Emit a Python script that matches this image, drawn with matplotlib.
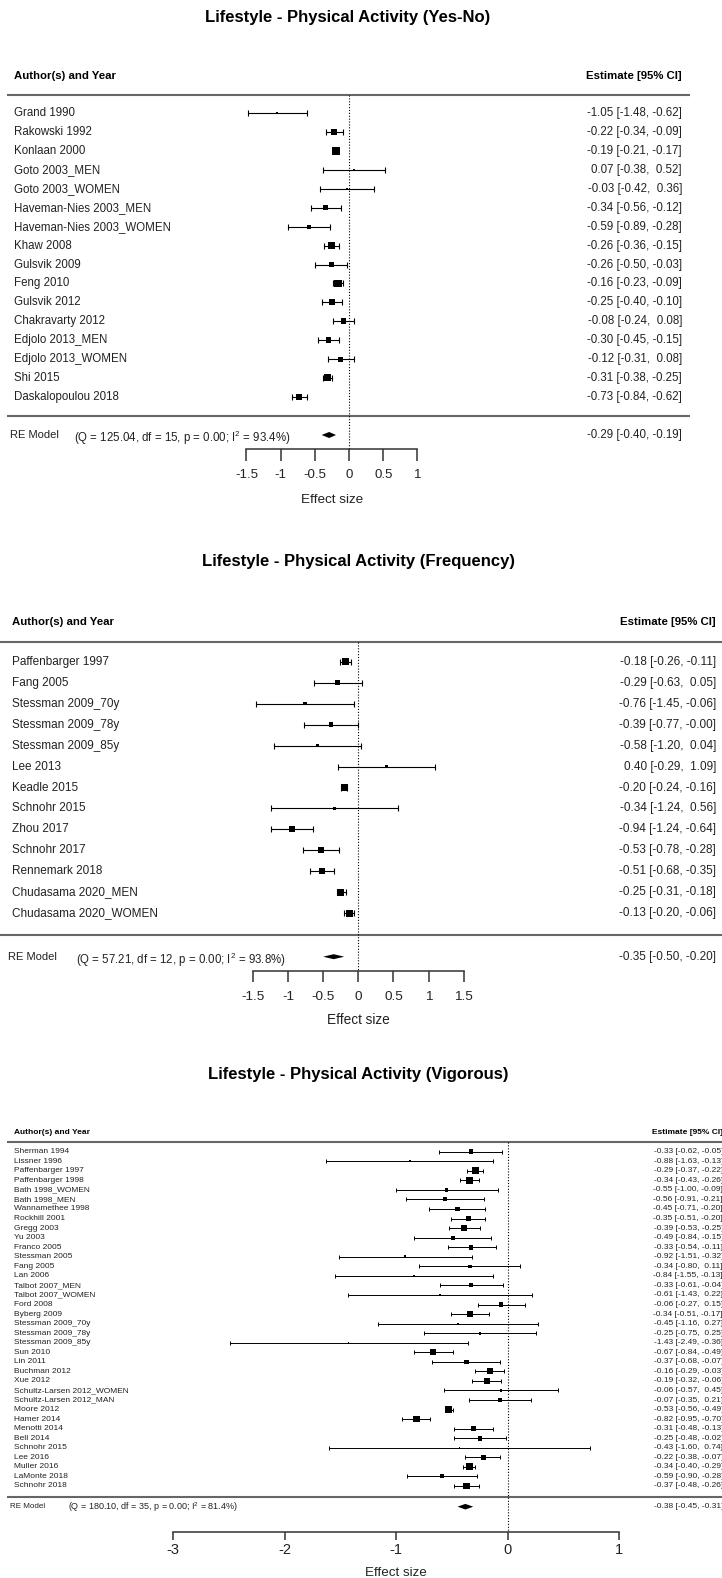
##----------Importing necessary packages-------------
import numpy as np
import matplotlib.pyplot as plt
from matplotlib import transforms
from matplotlib.patches import Polygon

plt.rcParams['font.family'] = ['Liberation Sans', 'DejaVu Sans']
plt.rcParams['mathtext.fontset'] = 'custom'
plt.rcParams['mathtext.rm'] = 'Liberation Sans'
plt.rcParams['mathtext.it'] = 'Liberation Sans'
##--------------------------------------------------

##-----------Data: panel 1 (Yes-No)-----------------
title1 = 'Lifestyle - Physical Activity (Yes-No)'
names1 = ['Grand 1990', 'Rakowski 1992', 'Konlaan 2000', 'Goto 2003_MEN', 'Goto 2003_WOMEN',
          'Haveman-Nies 2003_MEN', 'Haveman-Nies 2003_WOMEN', 'Khaw 2008', 'Gulsvik 2009',
          'Feng 2010', 'Gulsvik 2012', 'Chakravarty 2012', 'Edjolo 2013_MEN',
          'Edjolo 2013_WOMEN', 'Shi 2015', 'Daskalopoulou 2018']
est1 = [-1.05, -0.22, -0.19, 0.07, -0.03, -0.34, -0.59, -0.26, -0.26, -0.16, -0.25, -0.08, -0.30, -0.12, -0.31, -0.73]
lo1 = [-1.48, -0.34, -0.21, -0.38, -0.42, -0.56, -0.89, -0.36, -0.50, -0.23, -0.40, -0.24, -0.45, -0.31, -0.38, -0.84]
hi1 = [-0.62, -0.09, -0.17, 0.52, 0.36, -0.12, -0.28, -0.15, -0.03, -0.09, -0.10, 0.08, -0.15, 0.08, -0.25, -0.62]
wt1 = [2.0, 6.0, 7.3, 2.0, 2.7, 5.3, 4.0, 6.7, 5.0, 7.3, 5.7, 5.7, 5.7, 5.0, 7.0, 6.0]
re1 = [-0.29, -0.40, -0.19]
stats1 = [125.04, 15, 0.00, 93.4]
ticks1 = [-1.5, -1, -0.5, 0, 0.5, 1]

##-----------Data: panel 2 (Frequency)--------------
title2 = 'Lifestyle - Physical Activity (Frequency)'
names2 = ['Paffenbarger 1997', 'Fang 2005', 'Stessman 2009_70y', 'Stessman 2009_78y',
          'Stessman 2009_85y', 'Lee 2013', 'Keadle 2015', 'Schnohr 2015', 'Zhou 2017',
          'Schnohr 2017', 'Rennemark 2018', 'Chudasama 2020_MEN', 'Chudasama 2020_WOMEN']
est2 = [-0.18, -0.29, -0.76, -0.39, -0.58, 0.40, -0.20, -0.34, -0.94, -0.53, -0.51, -0.25, -0.13]
lo2 = [-0.26, -0.63, -1.45, -0.77, -1.20, -0.29, -0.24, -1.24, -1.24, -0.78, -0.68, -0.31, -0.20]
hi2 = [-0.11, 0.05, -0.06, -0.0, 0.04, 1.09, -0.16, 0.56, -0.64, -0.28, -0.35, -0.18, -0.06]
wt2 = [7.3, 5.0, 3.3, 4.3, 3.3, 3.3, 7.3, 2.3, 6.0, 6.0, 6.0, 7.3, 7.3]
re2 = [-0.35, -0.50, -0.20]
stats2 = [57.21, 12, 0.00, 93.8]
ticks2 = [-1.5, -1, -0.5, 0, 0.5, 1, 1.5]

##-----------Data: panel 3 (Vigorous)---------------
title3 = 'Lifestyle - Physical Activity (Vigorous)'
names3 = ['Sherman 1994', 'Lissner 1996', 'Paffenbarger 1997', 'Paffenbarger 1998',
          'Bath 1998_WOMEN', 'Bath 1998_MEN', 'Wannamethee 1998', 'Rockhill 2001', 'Gregg 2003',
          'Yu 2003', 'Franco 2005', 'Stessman 2005', 'Fang 2005', 'Lan 2006', 'Talbot 2007_MEN',
          'Talbot 2007_WOMEN', 'Ford 2008', 'Byberg 2009', 'Stessman 2009_70y',
          'Stessman 2009_78y', 'Stessman 2009_85y', 'Sun 2010', 'Lin 2011', 'Buchman 2012',
          'Xue 2012', 'Schultz-Larsen 2012_WOMEN', 'Schultz-Larsen 2012_MAN', 'Moore 2012',
          'Hamer 2014', 'Menotti 2014', 'Bell 2014', 'Schnohr 2015', 'Lee 2016', 'Muller 2016',
          'LaMonte 2018', 'Schnohr 2018']
est3 = [-0.33, -0.88, -0.29, -0.34, -0.55, -0.56, -0.45, -0.35, -0.39, -0.49, -0.33, -0.92,
        -0.34, -0.84, -0.33, -0.61, -0.06, -0.34, -0.45, -0.25, -1.43, -0.67, -0.37, -0.16,
        -0.19, -0.06, -0.07, -0.53, -0.82, -0.31, -0.25, -0.43, -0.22, -0.34, -0.59, -0.37]
lo3 = [-0.62, -1.63, -0.37, -0.43, -1.00, -0.91, -0.71, -0.51, -0.53, -0.84, -0.54, -1.51,
       -0.80, -1.55, -0.61, -1.43, -0.27, -0.51, -1.16, -0.75, -2.49, -0.84, -0.68, -0.29,
       -0.32, -0.57, -0.35, -0.56, -0.95, -0.48, -0.48, -1.60, -0.38, -0.40, -0.90, -0.48]
hi3 = [-0.05, -0.13, -0.22, -0.26, -0.09, -0.21, -0.20, -0.20, -0.25, -0.15, -0.11, -0.32,
       0.11, -0.13, -0.04, 0.22, 0.15, -0.17, 0.27, 0.25, -0.36, -0.49, -0.07, -0.03,
       -0.06, 0.45, 0.21, -0.49, -0.70, -0.13, -0.02, 0.74, -0.07, -0.29, -0.28, -0.26]
wt3 = [3.5, 1.5, 5.0, 5.0, 2.5, 3.0, 3.5, 4.0, 4.5, 3.0, 3.5, 2.0, 2.5, 1.5, 3.0, 1.5, 3.5,
       4.0, 1.5, 2.0, 1.0, 4.5, 3.0, 4.5, 4.5, 2.0, 3.0, 5.5, 5.0, 4.0, 3.5, 1.0, 4.0, 5.0,
       3.0, 4.5]
re3 = [-0.38, -0.45, -0.31]
stats3 = [180.10, 35, 0.00, 81.4]
ticks3 = [-3, -2, -1, 0, 1]
##--------------------------------------------------

W, H = 722, 1578
fig = plt.figure(figsize=(W / 100, H / 100), dpi=100)

##layout of each panel in pixels of the output picture (box = px per weight unit)
lay1 = dict(top=0, bot=515, x0=349, sc=68.4, row0=113.3, drow=18.9, ty=17, tx=348,
            hy=76, hl1=95, hl2=416, rey=435, axy=449.3, tlen=12, tly=475, xly=500,
            nx=14, ex=682, l0=7, l1=690, qx=74, qdy=3, dh=3, box=1.0,
            fs_t=12, fs_h=8.2, fs_n=8.3, fs_re=8.0, fs_q=8.3, fs_tk=9.5, fs_xl=9.7, cap=2.0, lw=0.8)
lay2 = dict(top=515, bot=1045, x0=358.3, sc=70.3, row0=661.7, drow=20.97, ty=561.7, tx=358,
            hy=622, hl1=641.7, hl2=935, rey=956.7, axy=970.7, tlen=11, tly=997.3, xly=1020,
            nx=12, ex=716, l0=0, l1=722, qx=76, qdy=3, dh=2.5, box=1.0,
            fs_t=12, fs_h=8.2, fs_n=8.5, fs_re=8.0, fs_q=8.3, fs_tk=9.7, fs_xl=9.8, cap=2.0, lw=0.8)
lay3 = dict(top=1045, bot=1578, x0=507.8, sc=111.6, row0=1151.7, drow=9.55, ty=1075, tx=358,
            hy=1132.7, hl1=1142, hl2=1496.7, rey=1506.7, axy=1531.7, tlen=8, tly=1550, xly=1573,
            nx=14, ex=723, l0=6.7, l1=722, qx=68, qdy=0.5, dh=2.8, box=1.35,
            fs_t=12, fs_h=6.0, fs_n=6.0, fs_re=5.8, fs_q=6.5, fs_tk=10.5, fs_xl=9.6, cap=1.4, lw=0.7)


def ci_text(e, l, h):
    return '{:.2f} [{:.2f}, {:5.2f}]'.format(e, l, h)


##draws one forest plot in its own band of the figure
def forest(L, title, names, est, lo, hi, wt, re, stats, ticks):
    ax = fig.add_axes([0, 1 - L['bot'] / H, 1, (L['bot'] - L['top']) / H])
    ax.axis('off')
    ry = lambda px: (px - L['row0']) / L['drow']
    ax.set_xlim(-L['x0'] / L['sc'], (W - L['x0']) / L['sc'])
    ax.set_ylim(ry(L['bot']), ry(L['top']))
    tr = transforms.blended_transform_factory(ax.transAxes, ax.transData)

    est, lo, hi, wt = map(np.asarray, (est, lo, hi, wt))
    rows = np.arange(len(names))

    # title and header
    ax.text(L['tx'] / W, ry(L['ty']), title, transform=tr, ha='center', va='center',
            fontsize=L['fs_t'], fontweight='bold')
    ax.text(L['nx'] / W, ry(L['hy']), 'Author(s) and Year', transform=tr, ha='left',
            va='center', fontsize=L['fs_h'], fontweight='bold')
    ax.text(L['ex'] / W, ry(L['hy']), 'Estimate [95% CI]', transform=tr, ha='right',
            va='center', fontsize=L['fs_h'], fontweight='bold')
    for yl in (L['hl1'], L['hl2']):
        ax.plot([L['l0'] / W, L['l1'] / W], [ry(yl)] * 2, transform=tr, color='#666666',
                lw=1.5, solid_capstyle='butt')

    # zero line
    ax.plot([0, 0], [ry(L['hl1']), ry(L['axy'])], color='black', lw=0.8, ls=(0, (1, 1.6)))

    # studies
    for i, n in enumerate(names):
        ax.text(L['nx'] / W, i, n, transform=tr, ha='left', va='center', fontsize=L['fs_n'],
                color='#222222')
        ax.text(L['ex'] / W, i, ci_text(est[i], lo[i], hi[i]), transform=tr, ha='right',
                va='center', fontsize=L['fs_n'], color='#222222')
    ax.errorbar(est, rows, xerr=[est - lo, hi - est], fmt='none', ecolor='black',
                elinewidth=L['lw'], capsize=L['cap'], capthick=L['lw'])
    ax.scatter(est, rows, marker='s', s=(wt * L['box'] * 0.72) ** 2, color='black',
               linewidths=0, zorder=3)

    # summary
    yr = ry(L['rey'])
    h = L['dh'] / L['drow']
    ax.add_patch(Polygon([(re[1], yr), (re[0], yr - h), (re[2], yr), (re[0], yr + h)],
                         closed=True, color='black', lw=0))
    ax.text(L['nx'] / W - 0.005, yr, 'RE Model', transform=tr, ha='left', va='center',
            fontsize=L['fs_re'], color='#222222')
    q, df, p, i2 = stats
    ax.text(L['qx'] / W, yr + L['qdy'] / L['drow'],
            '(Q = {:.2f}, df = {}, p = {:.2f}; I$^2$ = {:.1f}%)'.format(q, df, p, i2),
            transform=tr, ha='left', va='center', fontsize=L['fs_q'], color='#222222')
    ax.text(L['ex'] / W, yr, ci_text(*re), transform=tr, ha='right', va='center',
            fontsize=L['fs_n'], color='#222222')

    # x axis drawn R style
    ya = ry(L['axy'])
    ax.plot([ticks[0], ticks[-1]], [ya, ya], color='#333333', lw=1.1)
    ax.vlines(ticks, ya, ry(L['axy'] + L['tlen']), color='#333333', lw=1.1)
    for t in ticks:
        ax.text(t, ry(L['tly']), '{:g}'.format(t), ha='center', va='center',
                fontsize=L['fs_tk'], color='#222222')
    ax.text((ticks[0] + ticks[-1]) / 2, ry(L['xly']), 'Effect size', ha='center',
            va='center', fontsize=L['fs_xl'], color='#222222')
    return ax


forest(lay1, title1, names1, est1, lo1, hi1, wt1, re1, stats1, ticks1)
forest(lay2, title2, names2, est2, lo2, hi2, wt2, re2, stats2, ticks2)
forest(lay3, title3, names3, est3, lo3, hi3, wt3, re3, stats3, ticks3)

fig.savefig('out.png', dpi=100, facecolor='white')
